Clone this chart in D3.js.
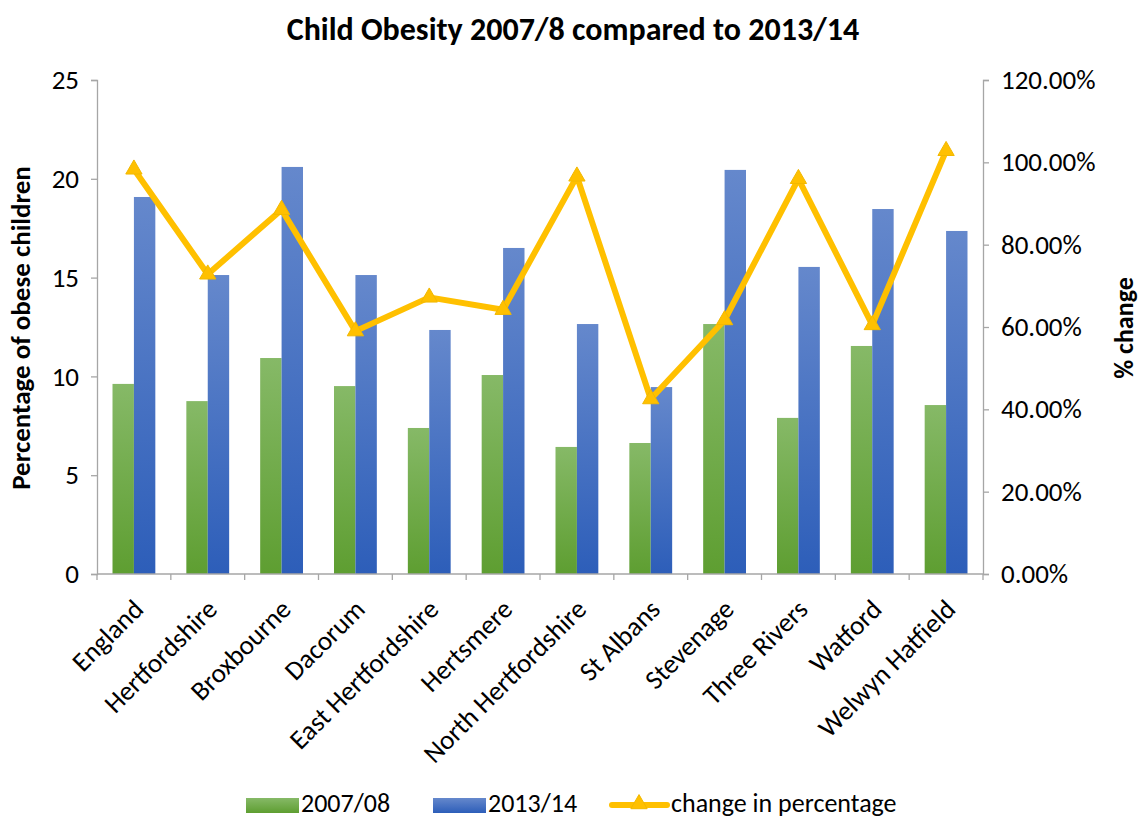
<!DOCTYPE html>
<html>
<head>
<meta charset="utf-8">
<script src="https://cdn.jsdelivr.net/npm/d3@7/dist/d3.min.js"></script>
<style>
  body { margin: 0; background: #fff; }
  text { font-family: Carlito, Calibri, Lato, "Open Sans", sans-serif; fill: #000; }
</style>
</head>
<body>
<svg id="chart" width="1142" height="820"></svg>
<script>
const categories = ["England","Hertfordshire","Broxbourne","Dacorum","East Hertfordshire","Hertsmere","North Hertfordshire","St Albans","Stevenage","Three Rivers","Watford","Welwyn Hatfield"];
const values2007 = [9.62, 8.75, 10.93, 9.51, 7.39, 10.07, 6.43, 6.63, 12.65, 7.9, 11.54, 8.55];
const values2013 = [19.08, 15.13, 20.6, 15.13, 12.35, 16.5, 12.65, 9.46, 20.45, 15.54, 18.47, 17.36];
const changePct = [98.3, 72.8, 88.5, 59.0, 67.2, 64.2, 96.6, 42.5, 61.7, 96.0, 60.5, 102.8];
const leftTicks = [0, 5, 10, 15, 20, 25];
const rightTicks = [0, 20, 40, 60, 80, 100, 120];
const seriesNames = ["2007/08", "2013/14", "change in percentage"];

const svg = d3.select("#chart");
const L = 97, R = 983, T = 80, B = 574;

const defs = svg.append("defs");
function grad(id, top, bottom) {
  const g = defs.append("linearGradient").attr("id", id)
    .attr("x1", 0).attr("y1", 0).attr("x2", 0).attr("y2", 1);
  g.append("stop").attr("offset", "0%").attr("stop-color", top);
  g.append("stop").attr("offset", "100%").attr("stop-color", bottom);
}
grad("gGreen", "#86b967", "#5e9e31");
grad("gBlue", "#6588cc", "#2d5eb9");

const x = d3.scaleBand().domain(categories).range([L, R]);
const bw = x.bandwidth();
const x1 = d3.scaleBand().domain(["a", "b"]).range([bw * 0.21, bw * 0.79]);
const y = d3.scaleLinear().domain([0, 25]).range([B, T]);
const y2 = d3.scaleLinear().domain([0, 120]).range([B, T]);

// Title
svg.append("text").attr("x", 573).attr("y", 40).attr("text-anchor", "middle")
  .style("font-size", "32px").style("font-weight", "bold")
  .text("Child Obesity 2007/8 compared to 2013/14");

// Bars
const g = svg.append("g");
categories.forEach((c, i) => {
  g.append("rect").attr("x", x(c) + x1("a")).attr("y", y(values2007[i]))
    .attr("width", x1.bandwidth()).attr("height", B - y(values2007[i]))
    .attr("fill", "url(#gGreen)");
  g.append("rect").attr("x", x(c) + x1("b")).attr("y", y(values2013[i]))
    .attr("width", x1.bandwidth()).attr("height", B - y(values2013[i]))
    .attr("fill", "url(#gBlue)");
});

// Axes
const axisColor = "#a6a6a6";
const leftAxis = svg.append("g").attr("transform", `translate(${L},0)`)
  .call(d3.axisLeft(y).tickValues(leftTicks).tickSize(6).tickPadding(12).tickFormat(d3.format("d")));
const rightAxis = svg.append("g").attr("transform", `translate(${R},0)`)
  .call(d3.axisRight(y2).tickValues(rightTicks).tickSize(6).tickPadding(12).tickFormat(d => d.toFixed(2) + "%"));
[leftAxis, rightAxis].forEach(a => {
  a.select(".domain").attr("stroke", axisColor).attr("stroke-width", 1.3);
  a.selectAll(".tick line").attr("stroke", axisColor).attr("stroke-width", 1.3);
  a.selectAll(".tick text").style("font-size", "27px").attr("fill", "#000")
    .style("font-family", "Carlito, Calibri, Lato, sans-serif");
});

// bottom axis
const bottom = svg.append("g");
bottom.append("line").attr("x1", L).attr("x2", R).attr("y1", B).attr("y2", B)
  .attr("stroke", axisColor).attr("stroke-width", 1.3);
const bounds = categories.map(c => x(c)).concat([R]);
bottom.selectAll("line.tk").data(bounds).enter().append("line")
  .attr("x1", d => d).attr("x2", d => d).attr("y1", B).attr("y2", B + 6)
  .attr("stroke", axisColor).attr("stroke-width", 1.3);
bottom.selectAll("text.cat").data(categories).enter().append("text")
  .attr("transform", d => `translate(${x(d) + bw / 2 + 11},${B + 37}) rotate(-45)`)
  .attr("text-anchor", "end")
  .style("font-size", "27px").text(d => d);

// Axis titles
svg.append("text").attr("transform", "translate(30,328) rotate(-90)")
  .attr("text-anchor", "middle").style("font-size", "27px").style("font-weight", "bold")
  .text("Percentage of obese children");
svg.append("text").attr("transform", "translate(1133,328) rotate(-90)")
  .attr("text-anchor", "middle").style("font-size", "26px").style("font-weight", "bold")
  .text("% change");

// Line
const lineColor = "#ffc000";
const line = d3.line().x((d, i) => x(categories[i]) + bw / 2).y(d => y2(d));
svg.append("path").datum(changePct).attr("d", line)
  .attr("fill", "none").attr("stroke", lineColor).attr("stroke-width", 6)
  .attr("stroke-linejoin", "round");
const tri = d3.symbol().type(d3.symbolTriangle).size(115);
svg.selectAll("path.mk").data(changePct).enter().append("path")
  .attr("transform", (d, i) => `translate(${x(categories[i]) + bw / 2},${y2(d)})`)
  .attr("d", tri).attr("fill", lineColor).attr("stroke", "#f2b800").attr("stroke-width", 1);

// Legend
const ly = 805;
const tb = 812;
const leg = svg.append("g");
leg.append("rect").attr("x", 246).attr("y", ly - 7).attr("width", 53).attr("height", 15).attr("fill", "url(#gGreen)");
leg.append("text").attr("x", 301).attr("y", tb).style("font-size", "26px").text(seriesNames[0]);
leg.append("rect").attr("x", 433).attr("y", ly - 7).attr("width", 53).attr("height", 15).attr("fill", "url(#gBlue)");
leg.append("text").attr("x", 488).attr("y", tb).style("font-size", "26px").text(seriesNames[1]);
leg.append("line").attr("x1", 612).attr("x2", 667).attr("y1", ly).attr("y2", ly)
  .attr("stroke", lineColor).attr("stroke-width", 6).attr("stroke-linecap", "round");
leg.append("path").attr("transform", `translate(639,${ly - 1})`).attr("d", tri)
  .attr("fill", lineColor).attr("stroke", "#f2b800").attr("stroke-width", 1);
leg.append("text").attr("x", 671).attr("y", tb).style("font-size", "26px").text(seriesNames[2]);
</script>
</body>
</html>
